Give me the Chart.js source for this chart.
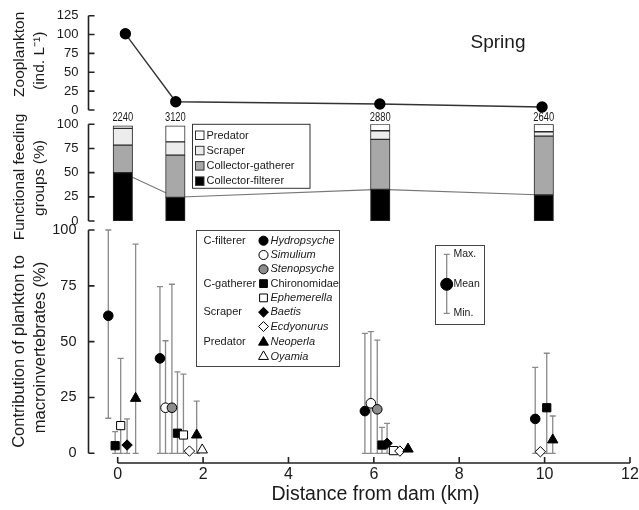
<!DOCTYPE html>
<html>
<head>
<meta charset="utf-8">
<script src="https://cdn.jsdelivr.net/npm/chart.js@4.4.1/dist/chart.umd.min.js"></script>
<style>
  html, body { margin: 0; padding: 0; background: #fff; }
  #wrap { position: relative; width: 639px; height: 510px; overflow: hidden; }
  #wrap canvas { position: absolute; left: 0; top: 0; }
</style>
</head>
<body>
<div id="wrap">
  <canvas id="zoo" width="639" height="510"></canvas>
  <canvas id="ffg" width="639" height="510"></canvas>
  <canvas id="contrib" width="639" height="510"></canvas>
</div>
<script>
// ---- data ----
// top panel: zooplankton density (ind. L-1)
const ZOO_KM = [0.18, 1.36, 6.14, 9.94];
const ZOOPLANKTON = [101, 11, 8, 4];

// middle panel: functional feeding groups (%), total abundance on top
const BAR_KM = [0.12, 1.35, 6.15, 9.98];
const BAR_TOTAL = [2240, 3120, 2880, 2640];
const COLLECTOR_FILTERER = [50, 24.5, 32.7, 26.9];
const COLLECTOR_GATHERER = [28.5, 43.7, 51.7, 60.9];
const SCRAPER = [17.3, 13.7, 8.9, 4.5];
const PREDATOR = [2.7, 16.6, 7.0, 7.7];
const FFG_NAMES = ['Collector-filterer', 'Collector-gatherer', 'Scraper', 'Predator'];
const FFG_FILL = ['#000000', '#a8a8a8', '#ececec', '#ffffff'];

// bottom panel: contribution of plankton (%), one row per taxon, one column per site
const SPECIES = ['Hydropsyche', 'Simulium', 'Stenopsyche', 'Chironomidae', 'Ephemerella',
                 'Baetis', 'Ecdyonurus', 'Neoperla', 'Oyamia'];
const SPECIES_KM = [
  [-0.22, 0.99, 5.79, 9.78],
  [null, 1.12, 5.93, null],
  [null, 1.27, 6.08, null],
  [-0.06, 1.40, 6.19, 10.05],
  [0.07, 1.54, 6.46, null],
  [0.22, null, 6.31, null],
  [null, 1.68, 6.61, 9.90],
  [0.42, 1.85, 6.80, 10.19],
  [null, 1.98, null, null]
];
const MEAN_PCT = [
  [61.6, 42.5, 18.9, 15.4],
  [null, 20.4, 22.4, null],
  [null, 20.4, 19.7, null],
  [3.4, 9.0, 3.7, 20.4],
  [12.4, 8.2, 1.2, null],
  [3.7, null, 4.5, null],
  [null, 1.0, 1.0, 0.7],
  [24.6, 8.2, 1.9, 6.0],
  [null, 1.5, null, null]
];
const MIN_PCT = [
  [15.7, 0, 0, 0],
  [null, 0, 0, null],
  [null, 0, 0, null],
  [0, 0, 0, 0],
  [0, 0, null, null],
  [0, null, 0, null],
  [null, null, null, null],
  [0, 0, null, 0],
  [null, null, null, null]
];
const MAX_PCT = [
  [100, 74.6, 53.7, 38.5],
  [null, 50.4, 54.5, null],
  [null, 75.7, 50.7, null],
  [9.7, 36.5, 11.6, 44.8],
  [42.5, 35.5, null, null],
  [15.4, null, 13.4, null],
  [null, null, null, null],
  [93.7, 23.4, null, 16.7],
  [null, null, null, null]
];
const GROUP_LABELS = ['C-filterer', '', '', 'C-gatherer', '', 'Scraper', '', 'Predator', ''];
const SP_STYLE = ['circle', 'circle', 'circle', 'rect', 'rect', 'rectRot', 'rectRot', 'triangle', 'triangle'];
const SP_FILL = ['#000', '#fff', '#8c8c8c', '#000', '#fff', '#000', '#fff', '#000', '#fff'];
const SP_RADIUS = [4.8, 4.8, 4.8, 5.8, 5.8, 5.2, 5.2, 6, 6];
const SP_ITALIC = [true, true, true, false, true, true, true, true, true];

const X_TICKS = [0, 2, 4, 6, 8, 10, 12];

// ---- layout ----
const FONT = '"Liberation Sans", Arial, Helvetica, sans-serif';
const INK = '#1a1a1a';
const X_MIN = -0.684, X_MAX = 12;
const AXIS_W = 88.5;
const PAD_RIGHT = 9;
const TITLE_X = [19.5, 40];

Chart.defaults.font.family = FONT;
Chart.defaults.color = INK;

function fixWidth(scale) {
  scale.width = AXIS_W;
  scale.paddingTop = 0;
  scale.paddingBottom = 0;
}

function xScale() {
  return { type: 'linear', min: X_MIN, max: X_MAX, offset: false, display: false };
}

function yScale(max, fontSize, pad) {
  return {
    min: 0, max: max,
    ticks: { stepSize: 25, padding: pad, font: { size: fontSize }, color: INK },
    grid: { display: false, drawTicks: false },
    border: { display: false },
    afterFit: fixWidth
  };
}

// range-frame axes with inward ticks
const frame = {
  id: 'frame',
  afterDraw(chart, args, opts) {
    const { ctx, chartArea: a, scales: { x, y } } = chart;
    ctx.save();
    ctx.strokeStyle = '#222';
    ctx.lineWidth = 1.6;
    ctx.beginPath();
    ctx.moveTo(a.left, y.getPixelForValue(y.max));
    ctx.lineTo(a.left, y.getPixelForValue(y.min));
    y.ticks.forEach(t => {
      const py = y.getPixelForValue(t.value);
      ctx.moveTo(a.left, py);
      ctx.lineTo(a.left + 6, py);
    });
    if (opts.xGap) {
      const by = a.bottom + opts.xGap;
      ctx.moveTo(x.getPixelForValue(X_TICKS[0]), by);
      ctx.lineTo(x.getPixelForValue(X_TICKS[X_TICKS.length - 1]), by);
      X_TICKS.forEach(v => {
        const px = x.getPixelForValue(v);
        ctx.moveTo(px, by);
        ctx.lineTo(px, by - 6);
      });
    }
    ctx.stroke();
    ctx.restore();
  }
};

// rotated two-line y titles
const yTitle = {
  id: 'yTitle',
  afterDraw(chart, args, opts) {
    const ctx = chart.ctx;
    ctx.save();
    ctx.font = opts.size + 'px ' + FONT;
    ctx.fillStyle = INK;
    ctx.textAlign = 'center';
    ctx.textBaseline = 'middle';
    opts.lines.forEach((line, i) => {
      ctx.save();
      ctx.translate(TITLE_X[i], opts.centers[i]);
      ctx.rotate(-Math.PI / 2);
      ctx.fillText(line, 0, 0);
      ctx.restore();
    });
    ctx.restore();
  }
};

const season = {
  id: 'season',
  afterDraw(chart) {
    const ctx = chart.ctx;
    ctx.save();
    ctx.font = '19px ' + FONT;
    ctx.fillStyle = INK;
    ctx.textAlign = 'center';
    ctx.textBaseline = 'middle';
    ctx.fillText('Spring', 498, 43);
    ctx.restore();
  }
};

// totals above bars + feeding group key
const ffgNotes = {
  id: 'ffgNotes',
  afterDraw(chart) {
    const { ctx, chartArea: a, scales: { x } } = chart;
    ctx.save();
    ctx.fillStyle = INK;
    ctx.font = '12px ' + FONT;
    ctx.textAlign = 'center';
    ctx.textBaseline = 'alphabetic';
    BAR_KM.forEach((km, i) => {
      ctx.save();
      ctx.translate(x.getPixelForValue(km), a.top - 3);
      ctx.scale(0.78, 1);
      ctx.fillText(String(BAR_TOTAL[i]), 0, 0);
      ctx.restore();
    });

    // key box
    ctx.strokeStyle = '#333';
    ctx.lineWidth = 1;
    ctx.fillStyle = '#fff';
    ctx.fillRect(192.5, a.top, 117.5, 64);
    ctx.strokeRect(192.5, a.top, 117.5, 64);
    ctx.font = '11px ' + FONT;
    ctx.textAlign = 'left';
    ctx.textBaseline = 'middle';
    for (let k = FFG_NAMES.length - 1, row = 0; k >= 0; k--, row++) {
      const cy = 135 + row * 15.3;
      ctx.fillStyle = FFG_FILL[k];
      ctx.fillRect(195.5, cy - 4, 8.5, 8.5);
      ctx.strokeRect(195.5, cy - 4, 8.5, 8.5);
      ctx.fillStyle = INK;
      ctx.fillText(FFG_NAMES[k], 206.5, cy + 0.5);
    }
    ctx.restore();
  }
};

// error bars (min-max) under the markers
const errorBars = {
  id: 'errorBars',
  beforeDatasetsDraw(chart) {
    const { ctx, scales: { x, y } } = chart;
    ctx.save();
    ctx.strokeStyle = '#8a8a8a';
    ctx.lineWidth = 1.3;
    ctx.beginPath();
    SPECIES_KM.forEach((row, k) => row.forEach((km, i) => {
      const lo = MIN_PCT[k][i], hi = MAX_PCT[k][i];
      if (km === null || lo === null || hi === null) return;
      const px = x.getPixelForValue(km);
      const y0 = y.getPixelForValue(lo), y1 = y.getPixelForValue(hi);
      ctx.moveTo(px, y0); ctx.lineTo(px, y1);
      ctx.moveTo(px - 3, y1); ctx.lineTo(px + 3, y1);
      ctx.moveTo(px - 3, y0); ctx.lineTo(px + 3, y0);
    }));
    ctx.stroke();
    ctx.restore();
  }
};

function marker(ctx, style, radius, fill, cx, cy) {
  ctx.fillStyle = fill;
  ctx.strokeStyle = '#000';
  ctx.lineWidth = 1;
  Chart.helpers.drawPoint(ctx, { pointStyle: style, radius: radius, rotation: 0, borderWidth: 1 }, cx, cy);
}

// species key, mean/min/max key, x title
const contribNotes = {
  id: 'contribNotes',
  afterDraw(chart) {
    const ctx = chart.ctx;
    ctx.save();
    ctx.strokeStyle = '#444';
    ctx.lineWidth = 1;
    ctx.fillStyle = '#fff';
    ctx.fillRect(196.5, 230.5, 143, 136);
    ctx.strokeRect(196.5, 230.5, 143, 136);
    ctx.textBaseline = 'middle';
    ctx.textAlign = 'left';
    SPECIES.forEach((name, k) => {
      const cy = 240.7 + k * 14.3 + (k >= 7 ? 1.5 : 0);
      if (GROUP_LABELS[k]) {
        ctx.fillStyle = INK;
        ctx.font = '11px ' + FONT;
        ctx.fillText(GROUP_LABELS[k], 203.5, cy);
      }
      marker(ctx, SP_STYLE[k], SP_RADIUS[k] * 0.95, SP_FILL[k], 263.5, cy);
      ctx.fillStyle = INK;
      ctx.font = (SP_ITALIC[k] ? 'italic ' : '') + '11px ' + FONT;
      ctx.fillText(name, 270.5, cy);
    });

    // mean / range key
    ctx.fillStyle = '#fff';
    ctx.strokeStyle = '#444';
    ctx.fillRect(435.5, 245.5, 49, 79);
    ctx.strokeRect(435.5, 245.5, 49, 79);
    ctx.strokeStyle = '#8a8a8a';
    ctx.lineWidth = 1.3;
    ctx.beginPath();
    ctx.moveTo(446.7, 254.3); ctx.lineTo(446.7, 313.3);
    ctx.moveTo(443.7, 254.3); ctx.lineTo(449.7, 254.3);
    ctx.moveTo(443.7, 313.3); ctx.lineTo(449.7, 313.3);
    ctx.stroke();
    marker(ctx, 'circle', 6, '#000', 446.7, 284.3);
    ctx.fillStyle = INK;
    ctx.font = '10.5px ' + FONT;
    ctx.fillText('Max.', 453.5, 254.5);
    ctx.fillText('Mean', 453.5, 284.5);
    ctx.fillText('Min.', 453.5, 313.5);

    ctx.font = '19.5px ' + FONT;
    ctx.textAlign = 'center';
    ctx.fillText('Distance from dam (km)', 375.5, 495);
    ctx.restore();
  }
};

const quiet = { legend: { display: false }, tooltip: { enabled: false } };

// ---- top: zooplankton ----
new Chart(document.getElementById('zoo'), {
  type: 'line',
  data: {
    datasets: [{
      data: ZOO_KM.map((km, i) => ({ x: km, y: ZOOPLANKTON[i] })),
      borderColor: '#333',
      borderWidth: 1.4,
      pointRadius: 5,
      pointBackgroundColor: '#000',
      pointBorderColor: '#000',
      tension: 0,
      clip: false
    }]
  },
  options: {
    responsive: false,
    animation: false,
    events: [],
    layout: { padding: { top: 15.7, bottom: 400, left: 0, right: PAD_RIGHT } },
    plugins: Object.assign({
      frame: {},
      yTitle: { lines: ['Zooplankton', '(ind. L\u207B\u00B9)'], centers: [54.3, 60.8], size: 15.5 }
    }, quiet),
    scales: { x: xScale(), y: yScale(125, 13, 10) }
  },
  plugins: [frame, yTitle, season]
});

// ---- middle: functional feeding groups ----
const FFG_PCT = [COLLECTOR_FILTERER, COLLECTOR_GATHERER, SCRAPER, PREDATOR];
const ffgSets = FFG_NAMES.map((name, k) => ({
  type: 'bar',
  label: name,
  data: BAR_KM.map((km, i) => ({ x: km, y: FFG_PCT[k][i] })),
  backgroundColor: FFG_FILL[k],
  borderColor: '#2a2a2a',
  borderWidth: 1,
  borderSkipped: false,
  barThickness: 19.5,
  stack: 'ffg',
  order: 1
}));
ffgSets.push({
  type: 'line',
  label: 'filterer link',
  data: BAR_KM.map((km, i) => ({ x: km, y: COLLECTOR_FILTERER[i] })),
  borderColor: '#777',
  borderWidth: 1.1,
  pointRadius: 0,
  tension: 0,
  stack: 'link',
  order: 2
});

new Chart(document.getElementById('ffg'), {
  type: 'bar',
  data: { datasets: ffgSets },
  options: {
    responsive: false,
    animation: false,
    events: [],
    layout: { padding: { top: 124.3, bottom: 289, left: 0, right: PAD_RIGHT } },
    plugins: Object.assign({
      frame: {},
      yTitle: { lines: ['Functional feeding', 'groups (%)'], centers: [177, 178], size: 15.5 }
    }, quiet),
    scales: {
      x: xScale(),
      y: Object.assign(yScale(100, 13, 10), { stacked: true })
    }
  },
  plugins: [frame, yTitle, ffgNotes]
});

// ---- bottom: contribution of plankton ----
const speciesSets = SPECIES.map((name, k) => ({
  label: name,
  data: SPECIES_KM[k]
    .map((km, i) => (km === null ? null : { x: km, y: MEAN_PCT[k][i] }))
    .filter(p => p !== null),
  pointStyle: SP_STYLE[k],
  pointRadius: SP_RADIUS[k],
  backgroundColor: SP_FILL[k],
  borderColor: '#000',
  borderWidth: 1,
  clip: false,
  order: -k
}));

new Chart(document.getElementById('contrib'), {
  type: 'scatter',
  data: { datasets: speciesSets },
  options: {
    responsive: false,
    animation: false,
    events: [],
    layout: { padding: { top: 230, bottom: 0, left: 0, right: PAD_RIGHT } },
    plugins: Object.assign({
      frame: { xGap: 9.7 },
      yTitle: { lines: ['Contribution of plankton to', 'macroinvertebrates (%)'], centers: [351.5, 347.5], size: 16.5 }
    }, quiet),
    scales: {
      x: {
        type: 'linear', min: X_MIN, max: X_MAX, offset: false,
        afterBuildTicks: scale => { scale.ticks = X_TICKS.map(v => ({ value: v })); },
        afterFit: scale => { scale.height = 56.7; scale.paddingLeft = 0; scale.paddingRight = 0; },
        ticks: { padding: 12, font: { size: 16 }, color: INK, maxRotation: 0, autoSkip: false },
        grid: { display: false, drawTicks: false },
        border: { display: false }
      },
      y: yScale(100, 14.5, 12)
    }
  },
  plugins: [errorBars, frame, yTitle, contribNotes]
});
</script>
</body>
</html>
